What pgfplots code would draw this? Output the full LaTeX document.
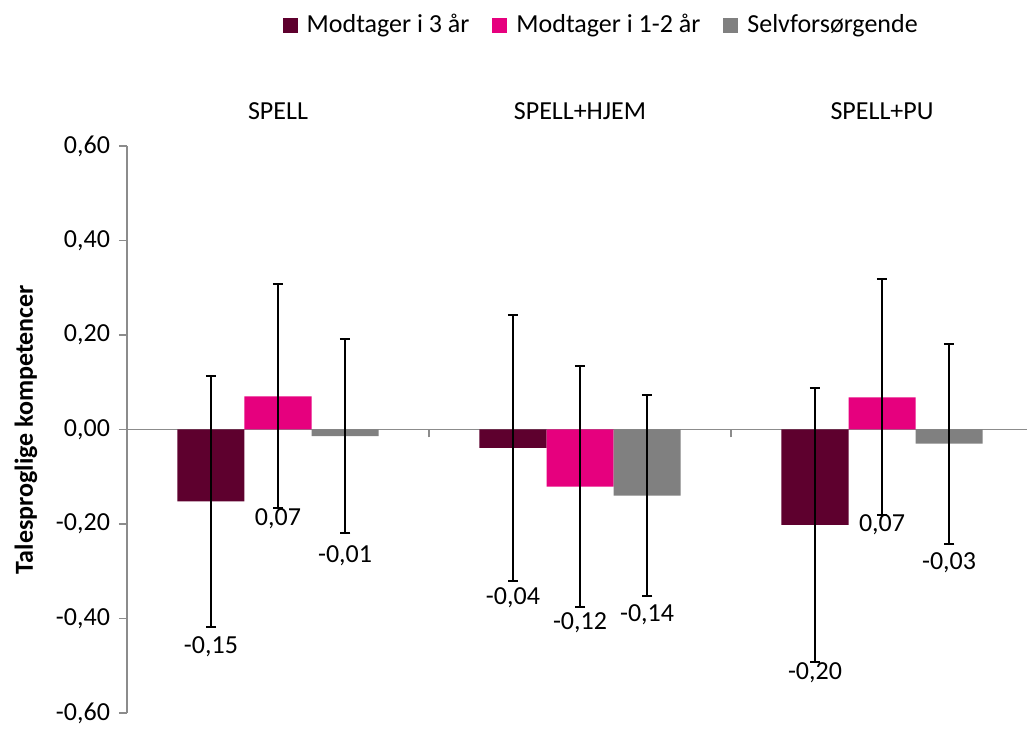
\documentclass[border=0pt]{standalone}
\usepackage{fontspec}
\setmainfont{Carlito}
\usepackage{pgfplots}
\pgfplotsset{compat=1.18}
\usepackage{pgfplotstable}

\definecolor{modtre}{RGB}{94,0,46}
\definecolor{modet}{RGB}{230,0,126}
\definecolor{selv}{RGB}{128,128,128}
\definecolor{akse}{RGB}{140,140,140}

% x = group, v = mean, e = error, l = y position of the data label
\pgfplotstableread{
x v1     e1    l1     v2     e2    l2     v3     e3    l3
1 -0.152 0.266 -0.460  0.070 0.237 -0.189 -0.014 0.205 -0.268
2 -0.039 0.282 -0.356 -0.121 0.255 -0.409 -0.140 0.213 -0.391
3 -0.202 0.289 -0.515  0.068 0.250 -0.202 -0.030 0.212 -0.282
}\data

\pgfplotsset{
  barstyle/.style={ybar, bar width=0.222, bar shift=0, draw=none,
    error bars/.cd, y dir=both, y explicit,
    error bar style={line width=1pt, black},
    error mark options={rotate=90, mark size=2.6pt, line width=1pt, black}},
  lblstyle/.style={draw=none, mark=none, forget plot, nodes near coords,
    point meta=explicit,
    nodes near coords={\pgfmathprintnumber[fixed, fixed zerofill, precision=2, use comma, assume math mode=true]{\pgfplotspointmeta}},
    nodes near coords style={anchor=center, text=black}},
}

\begin{document}
\fontsize{13}{15.6}\selectfont
\begin{tikzpicture}
\begin{axis}[
  name=ax, scale only axis, width=450pt, height=283.5pt,
  xmin=0.5, xmax=3.48, ymin=-0.6, ymax=0.6, clip=false,
  axis y line=left, axis x line=middle,
  axis line style={-, draw=akse, line width=0.75pt},
  hide obscured x ticks=false, hide obscured y ticks=false,
  xtick={1.5,2.5}, xticklabels={},
  ytick={-0.6,-0.4,-0.2,0,0.2,0.4,0.6},
  tick style={draw=akse, line width=0.75pt}, major tick length=4pt, tick align=outside,
  yticklabel style={/pgf/number format/.cd, fixed, fixed zerofill, precision=2, use comma, assume math mode=true},
  ylabel={Talesproglige kompetencer},
  ylabel style={font=\bfseries, at={(rel axis cs:-0.1122,0.5)}, anchor=center},
  legend style={at={(0.528,1.213)}, anchor=center, draw=none, fill=none,
    legend columns=-1, /tikz/every even column/.append style={column sep=9.5pt}},
  legend image code/.code={\fill[#1] (0pt,-3.75pt) rectangle (7.5pt,3.75pt); \path (10pt,0pt);},
]
\addplot[fill=modtre, barstyle] table[x expr=\thisrow{x}-0.222, y=v1, y error=e1] {\data};
\addlegendentry{Modtager i 3 år}
\addplot[fill=modet, barstyle] table[x=x, y=v2, y error=e2] {\data};
\addlegendentry{Modtager i 1-2 år}
\addplot[fill=selv, barstyle] table[x expr=\thisrow{x}+0.222, y=v3, y error=e3] {\data};
\addlegendentry{Selvforsørgende}

\addplot[lblstyle] table[x expr=\thisrow{x}-0.222, y=l1, meta=v1] {\data};
\addplot[lblstyle] table[x=x, y=l2, meta=v2] {\data};
\addplot[lblstyle] table[x expr=\thisrow{x}+0.222, y=l3, meta=v3] {\data};

\node[anchor=base, yshift=13pt] at (axis cs:1,0.6) {SPELL};
\node[anchor=base, yshift=13pt] at (axis cs:2,0.6) {SPELL+HJEM};
\node[anchor=base, yshift=13pt] at (axis cs:3,0.6) {SPELL+PU};
\end{axis}
\path (ax.south west) ++(-63.5pt,-8pt) coordinate (bbA);
\path (ax.north east) ++(0pt,73pt) coordinate (bbB);
\pgfresetboundingbox
\useasboundingbox (bbA) rectangle (bbB);
\end{tikzpicture}
\end{document}
